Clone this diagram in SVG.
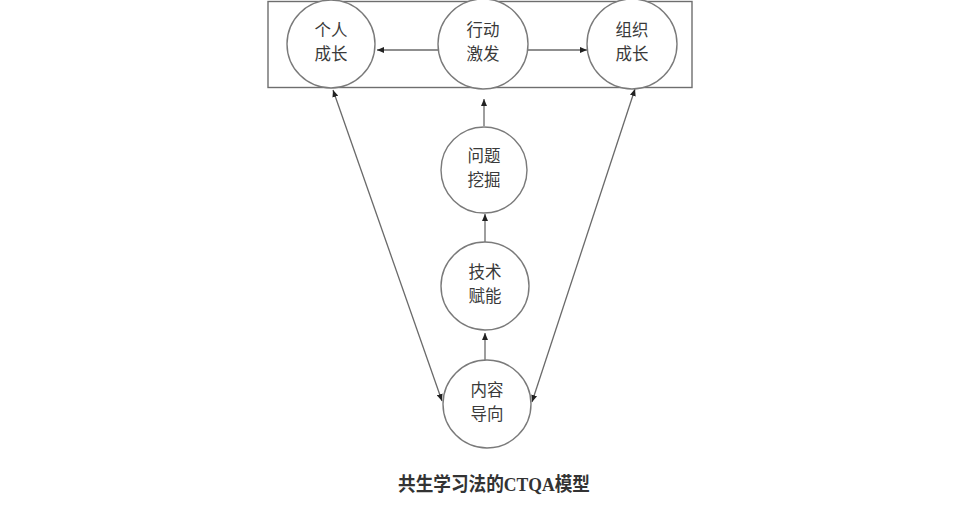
<svg xmlns="http://www.w3.org/2000/svg" width="961" height="510" viewBox="0 0 961 510">
<style>
.bg{fill:#ffffff}
.frame{fill:none;stroke:#6e6e6e;stroke-width:1.4}
.node circle{fill:#ffffff;stroke:#7a7a7a;stroke-width:1.4}
.node text{font-family:"Noto Sans CJK SC","Noto Sans",sans-serif;font-size:16.5px;fill:#3a3a3a;text-anchor:middle}
.edge{fill:none;stroke:#6a6a6a;stroke-width:1.3}
.cap{font-family:"Liberation Serif","Noto Sans CJK SC",serif;font-size:19px;fill:#333333;font-weight:bold}
</style>
<defs>
<marker id="ah" markerUnits="userSpaceOnUse" markerWidth="8" markerHeight="6" refX="7" refY="3" orient="auto-start-reverse">
<path d="M0,0 L7,3 L0,6 Z" fill="#222222"/>
</marker>
</defs>
<rect class="bg" x="0" y="0" width="961" height="510"/>
<rect class="frame" x="268" y="1.5" width="424" height="86"/>
<g id="connectors">
<line class="edge" x1="438" y1="50" x2="377" y2="50" marker-end="url(#ah)"/>
<line class="edge" x1="528" y1="50" x2="587" y2="50" marker-end="url(#ah)"/>
<line class="edge" x1="484" y1="126" x2="484" y2="99" marker-end="url(#ah)"/>
<line class="edge" x1="485" y1="242" x2="485" y2="214" marker-end="url(#ah)"/>
<line class="edge" x1="485" y1="360" x2="485" y2="333" marker-end="url(#ah)"/>
<line class="edge" x1="333" y1="90" x2="442" y2="401" marker-start="url(#ah)" marker-end="url(#ah)"/>
<line class="edge" x1="635" y1="89" x2="532" y2="402" marker-start="url(#ah)" marker-end="url(#ah)"/>
</g>
<g id="n-geren" class="node">
<circle cx="331" cy="44" r="44"/>
<text x="331" y="36">个人</text>
<text x="331" y="60">成长</text>
</g>
<g id="n-xingdong" class="node">
<circle cx="483" cy="44" r="45"/>
<text x="483" y="36">行动</text>
<text x="483" y="60">激发</text>
</g>
<g id="n-zuzhi" class="node">
<circle cx="632" cy="44" r="45"/>
<text x="632" y="36">组织</text>
<text x="632" y="60">成长</text>
</g>
<g id="n-wenti" class="node">
<circle cx="484" cy="170" r="43"/>
<text x="484" y="162">问题</text>
<text x="484" y="186">挖掘</text>
</g>
<g id="n-jishu" class="node">
<circle cx="485" cy="286" r="44"/>
<text x="485" y="278">技术</text>
<text x="485" y="302">赋能</text>
</g>
<g id="n-neirong" class="node">
<circle cx="487" cy="404" r="44"/>
<text x="487" y="396">内容</text>
<text x="487" y="420">导向</text>
</g>
<text class="cap" x="398" y="491" textLength="192" lengthAdjust="spacingAndGlyphs">共生学习法的CTQA模型</text>
</svg>
